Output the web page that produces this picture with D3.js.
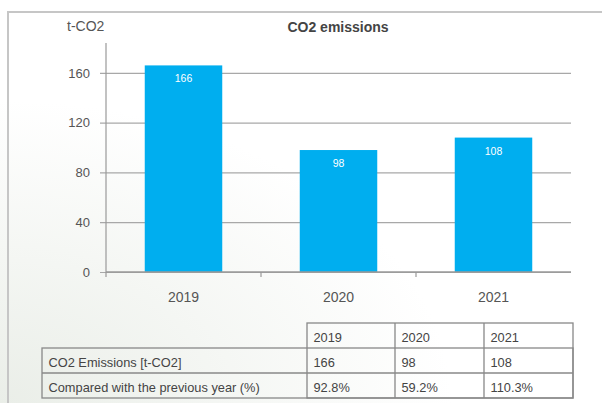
<!DOCTYPE html>
<html>
<head>
<meta charset="utf-8">
<script src="https://cdn.jsdelivr.net/npm/d3@7"></script>
<style>
  html, body { margin: 0; padding: 0; background: #fff; }
  svg { display: block; font-family: "Liberation Sans", Arial, Helvetica, sans-serif; }
</style>
</head>
<body>
<div id="chart"></div>
<script>
// data
const years = ["2019", "2020", "2021"];
const emissions = [166, 98, 108];
const yoy = ["92.8%", "59.2%", "110.3%"];
const yTicks = [0, 40, 80, 120, 160];
const rowLabels = ["CO2 Emissions [t-CO2]", "Compared with the previous year (%)"];

const W = 602, H = 403;
const svg = d3.select("#chart").append("svg")
  .attr("width", W).attr("height", H);

// faint background wash, bottom left
const defs = svg.append("defs");
const grad = defs.append("radialGradient").attr("id", "wash")
  .attr("cx", "0%").attr("cy", "100%").attr("r", "75%");
grad.append("stop").attr("offset", "0%").attr("stop-color", "#eaeee8");
grad.append("stop").attr("offset", "100%").attr("stop-color", "#ffffff");
svg.append("rect").attr("width", W).attr("height", H).attr("fill", "url(#wash)");

// frame
svg.append("path")
  .attr("d", `M8,${H} V12 H${W}`)
  .attr("fill", "none").attr("stroke", "#c6c6c6").attr("stroke-width", 2);

const plotL = 106, plotR = 571, plotT = 43, plotB = 272;

const x = d3.scaleBand().domain(years).range([plotL, plotR])
  .paddingInner(0.5).paddingOuter(0.25);
const y = d3.scaleLinear().domain([0, 184]).range([plotB, plotT]);

// y axis + grid
const yAxis = svg.append("g").attr("transform", `translate(${plotL},0)`)
  .call(d3.axisLeft(y).tickValues(yTicks).tickSizeInner(-(plotR - plotL)).tickSizeOuter(0).tickPadding(16));
yAxis.select(".domain").remove();
yAxis.selectAll(".tick line").attr("x1", -6).attr("stroke", "#a8a8a8").attr("stroke-width", 1.2);
yAxis.selectAll(".tick text").attr("font-size", 13).attr("fill", "#555").attr("font-family", null);
svg.append("line").attr("x1", plotL).attr("x2", plotL).attr("y1", plotT).attr("y2", plotB + 5)
  .attr("stroke", "#999").attr("stroke-width", 1.2);

// bars
svg.selectAll("rect.bar").data(emissions).enter().append("rect")
  .attr("class", "bar")
  .attr("x", (d, i) => x(years[i]))
  .attr("y", d => y(d))
  .attr("width", x.bandwidth())
  .attr("height", d => y(0) - y(d))
  .attr("fill", "#00aeef");

svg.selectAll("text.val").data(emissions).enter().append("text")
  .attr("class", "val")
  .attr("x", (d, i) => x(years[i]) + x.bandwidth() / 2)
  .attr("y", d => y(d) + 17)
  .attr("text-anchor", "middle").attr("font-size", 10.5).attr("fill", "#fff")
  .text(d => d);

// x axis baseline and separators between categories
svg.append("line").attr("x1", plotL).attr("x2", plotR).attr("y1", y(0)).attr("y2", y(0))
  .attr("stroke", "#999").attr("stroke-width", 1.5);
const sepX = d => x(d) - x.step() * x.paddingInner() / 2;
svg.selectAll("line.sep").data(years.slice(1)).enter().append("line")
  .attr("class", "sep")
  .attr("x1", sepX).attr("x2", sepX)
  .attr("y1", y(0)).attr("y2", y(0) + 5)
  .attr("stroke", "#999").attr("stroke-width", 1.2);

svg.selectAll("text.xl").data(years).enter().append("text")
  .attr("class", "xl")
  .attr("x", d => x(d) + x.bandwidth() / 2)
  .attr("y", 302)
  .attr("text-anchor", "middle").attr("font-size", 14).attr("fill", "#555")
  .text(d => d);

// unit and title
svg.append("text").attr("x", 67).attr("y", 31).attr("font-size", 14).attr("fill", "#555").text("t-CO2");
svg.append("text").attr("x", 338).attr("y", 32).attr("text-anchor", "middle")
  .attr("font-size", 14).attr("font-weight", "bold").attr("fill", "#444").text("CO2 emissions");

// table
const colX = [42, 307, 395, 484, 573];
const rowY = [323, 348, 373, 398];
const tbl = svg.append("g").attr("fill", "none").attr("stroke", "#888").attr("stroke-width", 1.3);
tbl.append("rect").attr("x", colX[1]).attr("y", rowY[0]).attr("width", colX[4] - colX[1]).attr("height", rowY[3] - rowY[0]);
tbl.append("rect").attr("x", colX[0]).attr("y", rowY[1]).attr("width", colX[4] - colX[0]).attr("height", rowY[3] - rowY[1]);
tbl.append("line").attr("x1", colX[0]).attr("x2", colX[4]).attr("y1", rowY[2]).attr("y2", rowY[2]);
[colX[2], colX[3]].forEach(v => tbl.append("line").attr("x1", v).attr("x2", v).attr("y1", rowY[0]).attr("y2", rowY[3]));

const cell = (cx, ry, t) => svg.append("text").attr("x", cx + 6.5).attr("y", ry + 18.5)
  .attr("font-size", 12.8).attr("fill", "#444").text(t);
years.forEach((t, i) => cell(colX[i + 1], rowY[0], t));
rowLabels.forEach((t, r) => cell(colX[0], rowY[r + 1], t));
emissions.forEach((v, i) => cell(colX[i + 1], rowY[1], v));
yoy.forEach((v, i) => cell(colX[i + 1], rowY[2], v));
</script>
</body>
</html>
